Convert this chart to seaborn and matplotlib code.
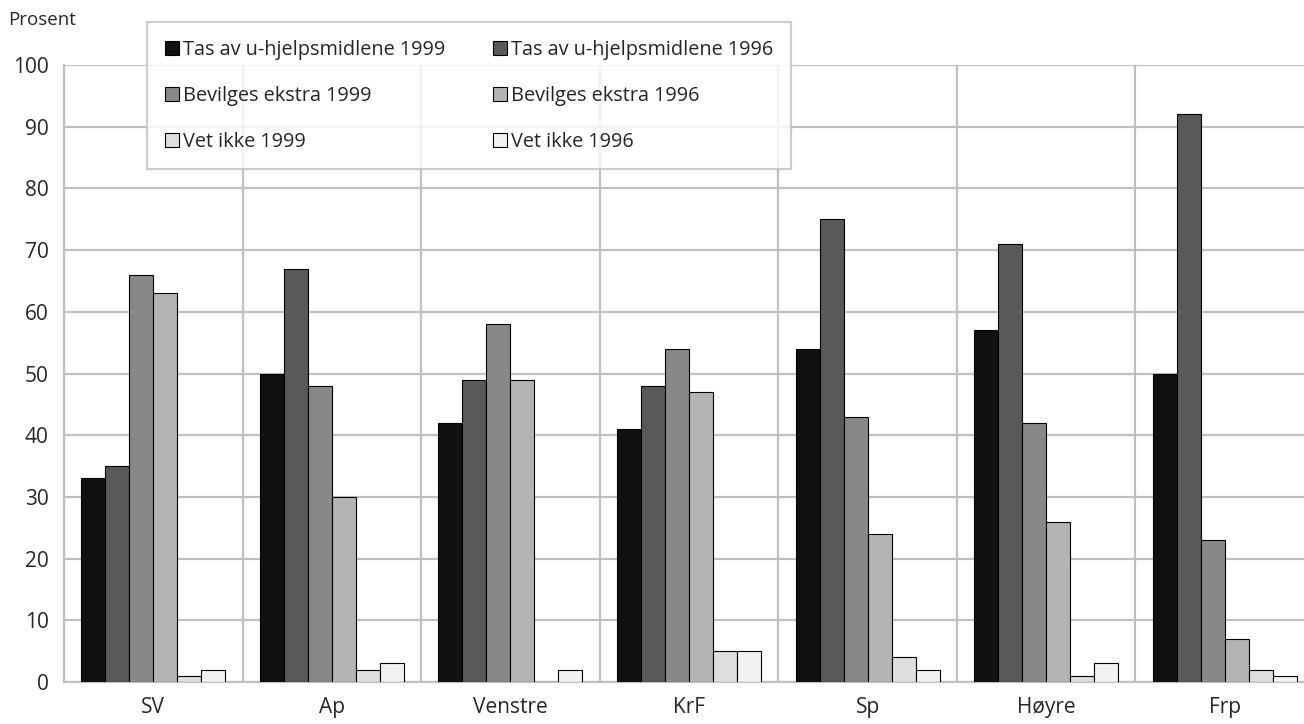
import seaborn as sns
import matplotlib.pyplot as plt
from matplotlib.patches import Patch
import pandas as pd
import numpy as np

sns.set_style("white")
plt.rcParams['font.family'] = ['Open Sans', 'DejaVu Sans']

# Data (percent)
parties = ["SV", "Ap", "Venstre", "KrF", "Sp", "Høyre", "Frp"]
series = ["Tas av u-hjelpsmidlene 1999", "Tas av u-hjelpsmidlene 1996",
          "Bevilges ekstra 1999", "Bevilges ekstra 1996",
          "Vet ikke 1999", "Vet ikke 1996"]
tas_1999 = [33, 50, 42, 41, 54, 57, 50]
tas_1996 = [35, 67, 49, 48, 75, 71, 92]
bev_1999 = [66, 48, 58, 54, 43, 42, 23]
bev_1996 = [63, 30, 49, 47, 24, 26, 7]
vet_1999 = [1, 2, 0, 5, 4, 1, 2]
vet_1996 = [2, 3, 2, 5, 2, 3, 1]
colors = ["#111111", "#595959", "#888888", "#b4b4b4", "#dedede", "#f2f2f2"]

values = [tas_1999, tas_1996, bev_1999, bev_1996, vet_1999, vet_1996]
df = pd.DataFrame([
    {"Parti": p, "Serie": s, "Prosent": v}
    for s, vals in zip(series, values)
    for p, v in zip(parties, vals)
])

grid_c = "#c0c0c0"
fig = plt.figure(figsize=(13.04, 7.24), dpi=100)
ax = fig.add_axes([64 / 1304, 42 / 724, 1250 / 1304, 617 / 724])

sns.barplot(data=df, x="Parti", y="Prosent", hue="Serie", order=parties,
            hue_order=series, palette=colors, width=0.807,
            edgecolor="black", linewidth=0.8, ax=ax, legend=False, zorder=3)

ax.set_xlim(-0.5, 6.5)
ax.set_ylim(0, 100)
ax.set_yticks(np.arange(0, 101, 10))
ax.set_xticks(np.arange(-0.5, 7, 1), minor=True)
ax.set_xlabel("")
ax.set_ylabel("")
ax.grid(axis="y", color=grid_c, linewidth=1.6, zorder=0)
ax.grid(axis="x", which="minor", color=grid_c, linewidth=1.6, zorder=0)
ax.set_axisbelow(True)
ax.tick_params(axis="x", which="major", length=0, pad=11, labelsize=15)
ax.tick_params(axis="x", which="minor", length=8, width=1.6, color=grid_c)
ax.tick_params(axis="y", length=6, width=1.6, color=grid_c, pad=5, labelsize=15)
for s in ["top", "right"]:
    ax.spines[s].set_visible(False)
for s in ["left", "bottom"]:
    ax.spines[s].set_color(grid_c)
    ax.spines[s].set_linewidth(1.6)

fig.text(8 / 1304, 1 - 20 / 724, "Prosent", fontsize=13.5, va="center", ha="left")

handles = [Patch(facecolor=c, edgecolor="black", linewidth=0.8) for c in colors]
order = [0, 2, 4, 1, 3, 5]
leg = ax.legend([handles[i] for i in order], [series[i] for i in order],
                ncol=2, loc="upper left",
                bbox_to_anchor=(147 / 1304, 1 - 22 / 724),
                bbox_transform=fig.transFigure, borderaxespad=0,
                fontsize=14.3, frameon=True, fancybox=False,
                handlelength=0.7, handleheight=0.7, handletextpad=0.2,
                labelspacing=1.3, columnspacing=2.4, borderpad=0.9)
leg.get_frame().set_edgecolor(grid_c)
leg.get_frame().set_linewidth(1.6)
leg.set_zorder(5)

plt.savefig("out.png", dpi=100)
plt.close()
